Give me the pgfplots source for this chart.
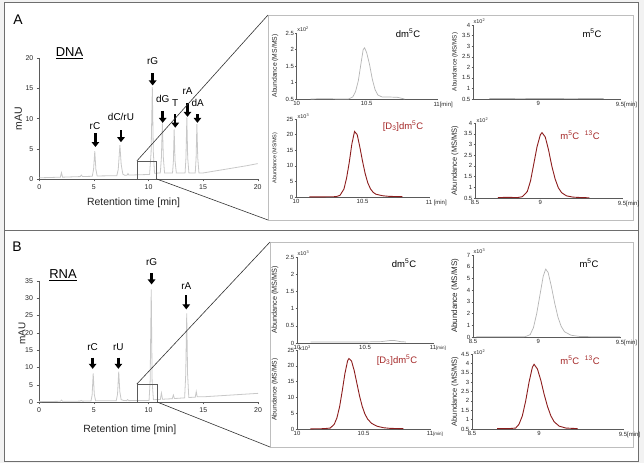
\documentclass[border=0pt]{standalone}
\usepackage{pgfplots}
\pgfplotsset{compat=1.18}
\usepackage{fontspec}
\setmainfont{Liberation Sans}
\usetikzlibrary{arrows.meta}
\definecolor{cgray}{RGB}{200,200,200}
\definecolor{cred}{RGB}{140,28,28}
\definecolor{lred}{RGB}{165,40,40}
\definecolor{frm}{RGB}{110,110,110}
\definecolor{boxg}{RGB}{190,190,190}
\definecolor{axg}{RGB}{90,90,90}
\newcommand{\fs}[1]{\fontsize{#1}{#1}\selectfont}
\pgfplotsset{
 base/.style={scale only axis, anchor=south west, axis lines=left,
   axis line style={-,draw=axg,line width=0.5bp},
   tick style={draw=axg,line width=0.4bp}, tick align=outside,
   enlargelimits=false, clip=false, /pgf/number format/assume math mode=true},
 chrom/.style={base, major tick length=2.5bp, xmin=0, xmax=20, xtick={0,5,10,15,20},
   ticklabel style={font=\fs{7}, text=black!85}},
 ms/.style={base, major tick length=1.5bp,
   ticklabel style={font=\fs{6}, text=black!85, inner sep=1bp}},
}
\tikzset{
 arr/.style={line width=2.4bp, -{Triangle[length=5bp,width=7.5bp]}},
 pk/.style={font=\fs{10}},
 ab/.style={rotate=90, font=\fs{#1}, text=black!85},
 ex/.style={anchor=west, font=\fs{5.5}, text=black!85, inner sep=0.5bp},
 tl/.style={font=\fs{9.5}},
}
\begin{document}
\begin{tikzpicture}[x=1bp,y=1bp]
\useasboundingbox (0,0) rectangle (644,463);
\fill[gray!10] (0,0) rectangle (644,463);
\fill[white] (4,2) rectangle (638,461);
\draw[frm, line width=0.8bp] (4,2) rectangle (638,461);
\draw[frm, line width=0.8bp] (4,233) -- (638,233);
\draw[boxg, line width=0.6bp] (268,448) rectangle (633,243);
\draw[boxg, line width=0.6bp] (270,221) rectangle (633,16);

\node[font=\fs{14}] at (18,443) {A};
\node[font=\fs{14}] at (17,216) {B};
\node[font=\fs{13}] at (69.5,410) {\underline{DNA}};
\node[font=\fs{13}] at (63,188) {\underline{RNA}};

% ---------------- A chromatogram
\begin{axis}[chrom, at={(39.3bp,284bp)}, width=218.4bp, height=120.7bp,
  ymin=0, ymax=20, ytick={0,5,10,15,20}]
\addplot[cgray, line width=0.8bp] table {
x y
0 0.2
1 0.25
1.93 0.3
2.03 1.05
2.13 0.3
3.75 0.4
3.85 0.65
3.95 0.4
4.85 0.45
4.97 1.6
5.08 4.6
5.18 1.6
5.3 0.5
7.1 0.55
7.23 1.6
7.38 5.6
7.5 2.4
7.65 0.8
7.85 0.6
8.05 0.65
8.12 0.9
8.2 0.65
10.1 0.75
10.24 4.5
10.35 15.2
10.44 4.5
10.55 0.95
11.08 1.0
11.18 3.5
11.27 9.2
11.36 3.5
11.47 1.0
12.2 1.0
12.28 3.0
12.35 8.2
12.43 3.0
12.55 1.0
13.35 1.0
13.43 3.5
13.51 10.2
13.59 3.5
13.7 1.0
14.28 1.0
14.36 3.5
14.43 9.1
14.51 3.5
14.62 1.0
15 1.0
16 1.3
17 1.6
18 1.9
19 2.2
20 2.55
};
\draw[arr] (axis cs:5.14,7.6) -- (axis cs:5.14,5.3);
\node[pk] at (axis cs:5.1,8.7) {rC};
\draw[arr] (axis cs:7.48,8.1) -- (axis cs:7.48,6.1);
\node[pk] at (axis cs:7.48,10.2) {dC/rU};
\draw[arr] (axis cs:10.38,17.5) -- (axis cs:10.38,15.5);
\node[pk] at (axis cs:10.38,19.5) {rG};
\draw[arr] (axis cs:11.3,11.3) -- (axis cs:11.3,9.3);
\node[pk] at (axis cs:11.3,13.2) {dG};
\draw[arr] (axis cs:12.45,10.7) -- (axis cs:12.45,8.5);
\node[pk] at (axis cs:12.45,12.6) {T};
\draw[arr] (axis cs:13.57,12.6) -- (axis cs:13.57,10.3);
\node[pk] at (axis cs:13.57,14.6) {rA};
\draw[arr] (axis cs:14.48,10.7) -- (axis cs:14.48,9.3);
\node[pk] at (axis cs:14.5,12.6) {dA};
\draw[axg, line width=0.6bp] (axis cs:8.94,0) rectangle (axis cs:10.75,3);
\coordinate (a1) at (axis cs:8.94,3);
\coordinate (a2) at (axis cs:10.75,0);
\node[ab=10.5] at ([xshift=-21bp]rel axis cs:0,0.5) {mAU};
\node[font=\fs{10.5}, text=black!85] at ([yshift=-24bp]axis cs:8.63,0) {Retention time [min]};
\end{axis}
\draw[black!80, line width=0.6bp] (a1) -- (268,448);
\draw[black!80, line width=0.6bp] (a2) -- (268,243);

% ---------------- B chromatogram
\begin{axis}[chrom, at={(39bp,61bp)}, width=219bp, height=121bp,
  ymin=0, ymax=35, ytick={0,5,...,35}]
\addplot[cgray, line width=0.8bp] table {
x y
0 0.1
1 0.15
1.95 0.2
2.05 0.55
2.15 0.2
3.75 0.25
3.85 0.45
3.95 0.25
4.75 0.3
4.85 2.0
4.95 8.3
5.05 2.2
5.17 0.35
7.05 0.35
7.17 2.2
7.28 8.8
7.38 3.0
7.5 0.7
7.7 0.45
8.0 0.4
8.1 0.7
8.2 0.4
10.05 0.45
10.15 6
10.25 32.6
10.33 6
10.45 0.65
11.08 0.75
11.18 2.6
11.28 0.8
12.17 0.95
12.27 2.0
12.37 1.0
13.3 1.2
13.4 8
13.49 25.6
13.57 8
13.68 1.3
14.27 1.4
14.36 3.0
14.45 1.5
15 1.5
20 2.5
};
\draw[arr] (axis cs:4.9,12.8) -- (axis cs:4.9,9.6);
\node[pk] at (axis cs:4.9,16.0) {rC};
\draw[arr] (axis cs:7.25,12.8) -- (axis cs:7.25,9.6);
\node[pk] at (axis cs:7.25,16.0) {rU};
\draw[arr] (axis cs:10.28,37.2) -- (axis cs:10.28,34.0);
\node[pk] at (axis cs:10.28,40.6) {rG};
\draw[arr] (axis cs:13.45,30.9) -- (axis cs:13.45,26.8);
\node[pk] at (axis cs:13.45,33.4) {rA};
\draw[axg, line width=0.6bp] (axis cs:8.94,0) rectangle (axis cs:10.78,5.2);
\coordinate (b1) at (axis cs:8.94,5.2);
\coordinate (b2) at (axis cs:10.78,0);
\node[ab=10] at ([xshift=-17bp,yshift=8bp]rel axis cs:0,0.5) {mAU};
\node[font=\fs{10.5}, text=black!85] at ([yshift=-28bp]axis cs:8.3,0) {Retention time [min]};
\end{axis}
\draw[black!80, line width=0.6bp] (b1) -- (270,221);
\draw[black!80, line width=0.6bp] (b2) -- (270,16);

% ---------------- A small plots
\begin{axis}[ms, at={(296.7bp,364bp)}, width=140bp, height=66bp,
  xmin=10, xmax=11, ymin=0.5, ymax=2.5, ytick={0.5,1,1.5,2,2.5},
  xtick={10,10.5,11}, xticklabels={10,10.5,11\rlap{[min]}}]
\addplot[cgray!90!black, line width=0.7bp] table {
x y
10.1 0.5
10.2 0.51
10.3 0.5
10.37 0.5
10.4 0.56
10.42 0.72
10.44 1.05
10.46 1.6
10.475 2.0
10.485 2.05
10.5 1.9
10.52 1.55
10.54 1.1
10.56 0.78
10.58 0.62
10.61 0.56
10.66 0.56
10.72 0.55
10.75 0.52
10.77 0.5
};
\node[ab=6.8] at ([xshift=-21.7bp]rel axis cs:0,0.5) {Abundance (MS/MS)};
\node[ex] at ([yshift=3.5bp]rel axis cs:0,1) {x10\textsuperscript{2}};
\end{axis}

\begin{axis}[ms, at={(473bp,364bp)}, width=147bp, height=74bp,
  xmin=8.6, xmax=9.5, ymin=0.5, ymax=4, ytick={0.5,1,1.5,2,2.5,3,3.5,4},
  xtick={9,9.5}, xticklabels={9,9.5\rlap{[min]}}]
\addplot[cgray!90!black, line width=0.7bp] table {
x y
8.7 0.52
8.9 0.53
9.0 0.52
9.2 0.53
9.4 0.52
};
\node[ab=6.3] at ([xshift=-18bp]rel axis cs:0,0.5) {Abundance (MS/MS)};
\node[ex] at ([yshift=3.5bp]rel axis cs:0,1) {x10\textsuperscript{2}};
\end{axis}

\begin{axis}[ms, at={(296bp,266bp)}, width=133bp, height=78bp,
  xmin=10, xmax=11, ymin=0, ymax=25, ytick={0,5,10,15,20,25},
  xtick={10,10.5,11}, xticklabels={10,10.5,11\rlap{ [min]}}]
\addplot[cred, line width=0.9bp] table {
x y
10.1 0.05
10.2 0.05
10.3 0.1
10.33 0.5
10.36 2.5
10.38 6
10.4 11
10.42 17
10.44 21
10.46 20
10.48 16
10.5 11.5
10.52 7.5
10.54 4.5
10.56 2.6
10.58 1.5
10.6 0.9
10.65 0.4
10.7 0.2
10.8 0.1
};
\node[ab=5.5] at ([xshift=-21bp]rel axis cs:0,0.5) {Abundance (MS/MS)};
\node[ex] at ([yshift=2.5bp,xshift=1bp]rel axis cs:0,1) {x10\textsuperscript{3}};
\end{axis}

\begin{axis}[ms, at={(475bp,265bp)}, width=147bp, height=75bp,
  xmin=8.6, xmax=9.5, ymin=0.5, ymax=4, ytick={0.5,1,1.5,2,2.5,3,3.5,4},
  xtick={8.6,9,9.5}, xticklabels={8.5,9,9.5\rlap{[min]}}]
\addplot[cred, line width=0.9bp] table {
x y
8.74 0.52
8.8 0.53
8.86 0.52
8.89 0.56
8.92 0.8
8.94 1.3
8.96 2.1
8.98 2.9
9.0 3.45
9.01 3.55
9.03 3.35
9.05 2.75
9.07 2.0
9.09 1.4
9.11 0.98
9.13 0.75
9.16 0.6
9.2 0.54
9.25 0.52
9.3 0.51
};
\node[ab=7.5] at ([xshift=-20bp]rel axis cs:0,0.5) {Abundance (MS/MS)};
\node[ex] at ([yshift=2.5bp,xshift=1bp]rel axis cs:0,1) {x10\textsuperscript{2}};
\end{axis}

% ---------------- B small plots
\begin{axis}[ms, at={(297bp,120bp)}, width=136bp, height=86bp,
  xmin=10, xmax=11, ymin=0, ymax=2.5, ytick={0,0.5,1,1.5,2,2.5},
  xtick={10,10.5,11}, xticklabels={10,10.5,11\rlap{\fs{4.5}[min]}}]
\addplot[cgray!90!black, line width=0.7bp] table {
x y
10.1 0.03
10.3 0.03
10.5 0.03
10.62 0.04
10.68 0.07
10.72 0.07
10.76 0.04
10.8 0.03
};
\node[ab=7.3] at ([xshift=-22bp]rel axis cs:0,0.5) {Abundance (MS/MS)};
\node[ex] at ([yshift=3.5bp]rel axis cs:0,1) {x10\textsuperscript{3}};
\end{axis}

\begin{axis}[ms, at={(473bp,126bp)}, width=147bp, height=82bp,
  xmin=8.6, xmax=9.5, ymin=0, ymax=7, ytick={0,1,...,7},
  xtick={8.6,9,9.5}, xticklabels={8.5,9,9.5\rlap{[min]}}]
\addplot[cgray!90!black, line width=0.7bp] table {
x y
8.62 0.02
8.8 0.02
8.92 0.03
8.95 0.2
8.97 0.8
8.99 2.0
9.01 3.6
9.03 5.2
9.045 5.8
9.06 5.5
9.08 4.3
9.1 2.9
9.12 1.7
9.14 0.9
9.16 0.45
9.2 0.15
9.25 0.05
9.35 0.02
9.5 0.02
};
\node[ab=8] at ([xshift=-18bp]rel axis cs:0,0.5) {Abundance (MS/MS)};
\node[ex] at ([yshift=3.5bp]rel axis cs:0,1) {x10\textsuperscript{3}};
\end{axis}

\begin{axis}[ms, at={(297bp,34bp)}, width=133bp, height=79bp,
  xmin=10, xmax=11, ymin=0, ymax=25, ytick={0,5,10,15,20,25},
  xtick={10,10.5,11}, xticklabels={10,10.5,11\rlap{\fs{4.5}[min]}}]
\addplot[cred, line width=0.9bp] table {
x y
10.1 0.05
10.2 0.1
10.25 0.3
10.28 1.5
10.3 3.5
10.32 7
10.34 12
10.36 17.5
10.38 21.5
10.39 22.3
10.41 21.5
10.43 18.5
10.45 14.5
10.47 10.5
10.49 7.2
10.51 4.8
10.53 3.2
10.56 1.8
10.6 0.9
10.65 0.4
10.7 0.2
10.8 0.1
};
\node[ab=6.7] at ([xshift=-22bp]rel axis cs:0,0.5) {Abundance (MS/MS)};
\node[ex] at ([yshift=2bp,xshift=1.5bp]rel axis cs:0,1) {x10\textsuperscript{3}};
\end{axis}

\begin{axis}[ms, at={(472bp,34bp)}, width=151bp, height=75bp,
  xmin=8.6, xmax=9.5, ymin=0.5, ymax=4.5, ytick={0.5,1,1.5,2,2.5,3,3.5,4,4.5},
  xtick={8.6,9,9.5}, xticklabels={8.5,9,9.5\rlap{[min]}}]
\addplot[cred, line width=0.9bp] table {
x y
8.75 0.52
8.82 0.52
8.86 0.55
8.88 0.75
8.9 1.2
8.92 2.0
8.94 3.0
8.96 3.8
8.97 3.95
8.99 3.7
9.01 3.1
9.03 2.35
9.05 1.7
9.07 1.2
9.09 0.88
9.12 0.65
9.16 0.55
9.23 0.52
};
\node[ab=7.5] at ([xshift=-17bp]rel axis cs:0,0.5) {Abundance (MS/MS)};
\node[ex] at ([yshift=2bp,xshift=1bp]rel axis cs:0,1) {x10\textsuperscript{2}};
\end{axis}

% plot titles
\node[tl] at (408,430) {dm\textsuperscript{5}C};
\node[tl] at (592,430) {m\textsuperscript{5}C};
\node[tl, text=lred] at (403,337) {[D\textsubscript{3}]dm\textsuperscript{5}C};
\node[tl, text=lred] at (580,328) {m\textsuperscript{5}C\hspace{0.6em}\textsuperscript{13}C};
\node[tl] at (404,200) {dm\textsuperscript{5}C};
\node[tl] at (589,200) {m\textsuperscript{5}C};
\node[tl, text=lred] at (397,103) {[D\textsubscript{3}]dm\textsuperscript{5}C};
\node[tl, text=lred] at (580,103) {m\textsuperscript{5}C\hspace{0.6em}\textsuperscript{13}C};
\end{tikzpicture}
\end{document}
